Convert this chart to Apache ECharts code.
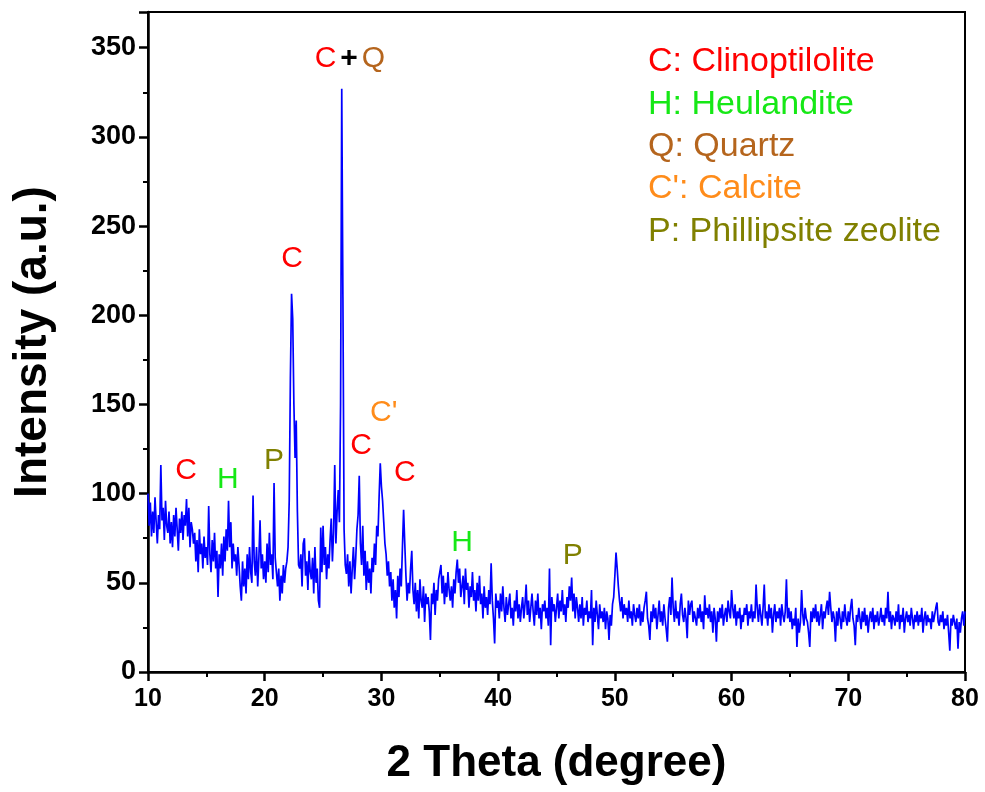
<!DOCTYPE html>
<html>
<head>
<meta charset="utf-8">
<script src="https://cdn.jsdelivr.net/npm/echarts@6/dist/echarts.min.js"></script>
<style>
html,body{margin:0;padding:0;background:#fff;}
#chart{width:985px;height:792px;}
</style>
</head>
<body>
<div id="chart"></div>
<script>
// 2θ grid: start and step of the scan (one intensity per step)
const thetaStart = 10;
const thetaStep = 0.1;

const intensity = [
100, 82, 95, 76, 90, 78, 98, 84, 72, 88,
80, 116, 85, 92, 74, 96, 82, 78, 90, 72,
84, 70, 88, 76, 92, 80, 68, 86, 78, 90,
74, 88, 82, 97, 76, 92, 70, 84, 80, 72,
78, 62, 74, 56, 80, 66, 72, 58, 76, 64,
70, 60, 93, 66, 56, 74, 62, 78, 58, 68,
42, 66, 58, 72, 54, 76, 62, 80, 68, 96,
70, 84, 58, 72, 62, 66, 54, 70, 60, 48,
40, 62, 48, 58, 44, 66, 52, 70, 56, 50,
99, 62, 54, 70, 48, 64, 85, 58, 66, 52,
62, 50, 72, 56, 78, 60, 66, 52, 106, 64,
56, 48, 58, 40, 54, 44, 60, 50, 58, 62,
70, 96, 165, 212, 198, 150, 120, 141, 90, 60,
58, 66, 48, 72, 75, 54, 62, 46, 68, 56,
52, 64, 44, 70, 50, 58, 40, 36, 81, 56,
82, 60, 70, 52, 66, 58, 74, 86, 62, 78,
116, 72, 90, 102, 84, 150, 327, 210, 80, 60,
55, 66, 48, 62, 44, 58, 70, 52, 64, 80,
88, 110, 72, 60, 82, 54, 68, 46, 62, 50,
58, 44, 64, 56, 72, 60, 82, 76, 98, 117,
104, 96, 84, 72, 66, 54, 62, 48, 56, 40,
52, 36, 46, 30, 54, 42, 58, 48, 70, 91,
72, 54, 40, 50, 44, 58, 68, 46, 38, 50,
34, 46, 30, 52, 40, 36, 48, 28, 44, 38,
42, 34, 18, 44, 38, 50, 32, 46, 40, 52,
56, 60, 44, 54, 38, 50, 42, 56, 46, 40,
48, 36, 52, 44, 56, 63, 50, 58, 42, 48,
54, 38, 58, 46, 50, 36, 48, 42, 56, 40,
46, 34, 50, 40, 54, 38, 44, 30, 48, 36,
42, 32, 46, 38, 61, 40, 30, 16, 44, 36,
40, 30, 44, 34, 48, 36, 28, 42, 32, 38,
44, 30, 36, 26, 40, 34, 46, 30, 38, 28,
36, 42, 30, 38, 49, 32, 40, 28, 36, 44,
34, 26, 40, 32, 44, 30, 36, 24, 38, 34,
40, 30, 36, 26, 58, 15, 42, 34, 38, 28,
36, 44, 30, 40, 34, 46, 32, 38, 28, 42,
36, 48, 40, 53, 34, 44, 30, 42, 36, 28,
38, 30, 42, 26, 36, 32, 40, 28, 34, 30,
46, 15, 36, 28, 40, 32, 24, 38, 30, 34,
28, 36, 24, 34, 30, 18, 32, 26, 38, 42,
54, 67, 58, 48, 40, 34, 42, 30, 38, 32,
36, 28, 40, 30, 34, 26, 38, 32, 28, 36,
30, 38, 26, 34, 28, 36, 40, 45, 30, 26,
18, 34, 28, 38, 30, 36, 24, 32, 40, 28,
34, 26, 38, 30, 24, 17, 36, 42, 32, 53,
36, 28, 40, 30, 34, 26, 38, 44, 32, 28,
36, 30, 19, 40, 32, 38, 40, 28, 34, 30,
26, 36, 30, 38, 28, 34, 24, 43, 32, 36,
30, 38, 28, 34, 22, 36, 30, 17, 34, 28,
36, 30, 38, 26, 32, 36, 28, 40, 34, 30,
46, 36, 30, 38, 26, 34, 30, 36, 24, 32,
28, 36, 32, 38, 26, 34, 30, 38, 28, 34,
30, 49, 36, 28, 38, 32, 26, 36, 49, 30,
34, 26, 38, 30, 36, 22, 32, 38, 28, 34,
30, 36, 26, 38, 32, 28, 34, 52, 30, 36,
28, 34, 24, 30, 26, 36, 14, 30, 22, 28,
46, 32, 26, 36, 30, 28, 22, 14, 34, 28,
36, 30, 38, 28, 34, 26, 32, 38, 24, 34,
30, 36, 40, 32, 45, 36, 28, 34, 30, 17,
34, 26, 36, 30, 24, 34, 28, 38, 30, 26,
34, 28, 36, 41, 30, 26, 15, 32, 28, 36,
30, 24, 34, 28, 36, 26, 32, 22, 30, 34,
28, 36, 24, 32, 28, 34, 26, 30, 36, 28,
32, 26, 36, 30, 45, 28, 34, 24, 32, 30,
26, 34, 28, 38, 24, 32, 28, 36, 22, 30,
34, 28, 32, 26, 36, 30, 24, 32, 28, 34,
26, 32, 28, 36, 22, 30, 34, 26, 32, 28,
30, 24, 34, 28, 32, 36, 39, 28, 26, 32,
28, 34, 24, 30, 26, 32, 22, 12, 30, 26,
32, 28, 24, 30, 13, 28, 22, 30, 34, 26,
34
];

// Peak labels: text, 2θ position, intensity position, colour key
const peakLabelText  = ['C', 'H', 'P', 'C', 'C+Q', 'C', "C'", 'C', 'H', 'P'];
const peakLabelTheta = [13.26, 16.85, 20.8, 22.34, 27.3, 28.25, 30.2, 32.0, 36.9, 46.4];
const peakLabelInt   = [112.9, 107.9, 118.5, 231.5, 343.8, 127, 145.5, 111.8, 72.5, 65.2];
const peakLabelKind  = ['C', 'H', 'P', 'C', 'CQ', 'C', 'Ca', 'C', 'H', 'P'];

// Phase key
const phaseText = ['C: Clinoptilolite', 'H: Heulandite', 'Q: Quartz', "C': Calcite", 'P: Phillipsite zeolite'];
const phaseKind = ['C', 'H', 'Q', 'Ca', 'P'];

// X / Y axes
const xTicks = [10, 20, 30, 40, 50, 60, 70, 80];
const yTicks = [0, 50, 100, 150, 200, 250, 300, 350];

const colours = { C: '#ff0000', H: '#16e816', Q: '#b5651d', Ca: '#ff8c1a', P: '#808000' };

const seriesData = intensity.map((v, i) => [+(thetaStart + i * thetaStep).toFixed(2), v]);

const labelData = peakLabelText.map((t, i) => ({
  value: [peakLabelTheta[i], peakLabelInt[i]],
  name: t,
  kind: peakLabelKind[i]
}));

const FONT = "'Liberation Sans', Arial, sans-serif";
const LBL = 30;

const chart = echarts.init(document.getElementById('chart'), null, { renderer: 'canvas' });

const option = {
  animation: false,
  backgroundColor: '#ffffff',
  grid: { left: 148, right: 20, top: 12, bottom: 120, show: true, borderColor: '#000', borderWidth: 2, backgroundColor: 'transparent' },
  xAxis: {
    type: 'value', min: xTicks[0], max: xTicks[xTicks.length - 1], interval: 10,
    axisLine: { show: true, onZero: false, lineStyle: { color: '#000', width: 2.5 } },
    axisTick: { show: true, inside: false, length: 9, lineStyle: { color: '#000', width: 2.5 } },
    minorTick: { show: true, splitNumber: 2, length: 5, lineStyle: { color: '#000', width: 2 } },
    splitLine: { show: false },
    axisLabel: { color: '#000', fontFamily: FONT, fontWeight: 'bold', fontSize: 25, margin: 15 },
    name: '2 Theta (degree)', nameLocation: 'middle', nameGap: 70,
    nameTextStyle: { color: '#000', fontFamily: FONT, fontWeight: 'bold', fontSize: 44 }
  },
  yAxis: {
    type: 'value', min: 0, max: 370, interval: 50,
    axisLine: { show: true, lineStyle: { color: '#000', width: 2.5 } },
    axisTick: { show: true, inside: false, length: 9, lineStyle: { color: '#000', width: 2.5 } },
    minorTick: { show: true, splitNumber: 2, length: 5, lineStyle: { color: '#000', width: 2 } },
    splitLine: { show: false },
    axisLabel: { color: '#000', fontFamily: FONT, fontWeight: 'bold', fontSize: 27, margin: 12,
      formatter: v => (yTicks.indexOf(v) >= 0 ? String(v) : '') },
    name: 'Intensity (a.u.)', nameLocation: 'middle', nameGap: 92,
    nameTextStyle: { color: '#000', fontFamily: FONT, fontWeight: 'bold', fontSize: 46 }
  },
  series: [
    {
      type: 'line', data: seriesData, showSymbol: false, symbol: 'none',
      lineStyle: { color: '#0000ff', width: 1.7 }, z: 2
    },
    {
      type: 'scatter', data: labelData, symbolSize: 1, itemStyle: { color: 'rgba(0,0,0,0)', opacity: 1 }, z: 3,
      silent: true,
      label: {
        show: true, position: 'inside', fontFamily: FONT, fontSize: LBL, opacity: 1,
        formatter: p => (p.data.kind === 'CQ' ? '{c|C}{p|+}{q|Q}' : '{' + p.data.kind + '|' + p.name + '}'),
        rich: {
          C: { color: colours.C, fontSize: LBL, fontFamily: FONT },
          H: { color: colours.H, fontSize: LBL, fontFamily: FONT },
          P: { color: colours.P, fontSize: LBL, fontFamily: FONT },
          Ca: { color: colours.Ca, fontSize: LBL, fontFamily: FONT },
          c: { color: colours.C, fontSize: LBL, fontFamily: FONT },
          p: { color: '#000', fontSize: LBL, fontFamily: FONT, fontWeight: 'bold', padding: [0, 4, 0, 4] },
          q: { color: colours.Q, fontSize: LBL, fontFamily: FONT }
        }
      }
    }
  ],
  graphic: phaseText.map((t, i) => ({
    type: 'text', left: 648, top: 45 + i * 42.3, silent: true,
    style: { text: t, fill: colours[phaseKind[i]], font: '34px ' + FONT }
  }))
};

chart.setOption(option);
</script>
</body>
</html>
